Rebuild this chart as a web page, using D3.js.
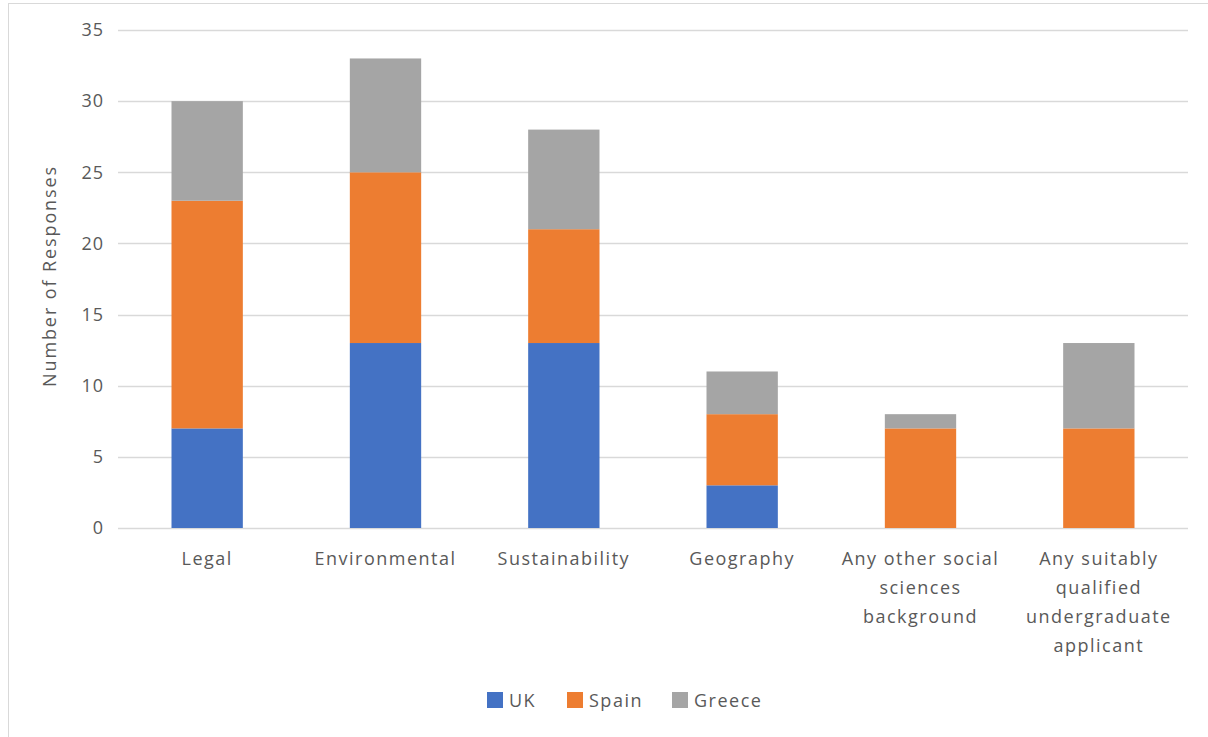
<!DOCTYPE html>
<html>
<head>
<meta charset="utf-8">
<script src="https://cdn.jsdelivr.net/npm/d3@7"></script>
<style>
  html, body { margin: 0; padding: 0; background: #fff; }
  svg { display: block; }
  text { font-family: "Open Sans", "Noto Sans", sans-serif; fill: #595959; }
</style>
</head>
<body>
<svg id="chart" width="1208" height="737"></svg>
<script>
// Responses by preferred applicant background, per country
const categories = [
  ["Legal"],
  ["Environmental"],
  ["Sustainability"],
  ["Geography"],
  ["Any other social", "sciences", "background"],
  ["Any suitably", "qualified", "undergraduate", "applicant"]
];
const seriesNames = ["UK", "Spain", "Greece"];
const ukValues     = [7, 13, 13, 3, 0, 0];
const spainValues  = [16, 12, 8, 5, 7, 7];
const greeceValues = [7, 8, 7, 3, 1, 6];
const yTicks = [0, 5, 10, 15, 20, 25, 30, 35];
const colors = ["#4472C4", "#ED7D31", "#A5A5A5"];

const rows = categories.map((c, i) => ({
  key: c.join(" "),
  lines: c,
  UK: ukValues[i],
  Spain: spainValues[i],
  Greece: greeceValues[i]
}));

const svg = d3.select("#chart");
const W = 1208, H = 737;
const plot = { left: 118, right: 1188, top: 30, bottom: 528 };

// Outer chart border
svg.append("rect")
  .attr("x", 8.5).attr("y", 3.5)
  .attr("width", W - 8).attr("height", H - 2)
  .attr("fill", "none").attr("stroke", "#D9D9D9").attr("stroke-width", 1);

const x = d3.scaleBand()
  .domain(rows.map(d => d.key))
  .range([plot.left, plot.right])
  .padding(0);

const y = d3.scaleLinear()
  .domain([0, 35])
  .range([plot.bottom, plot.top]);

// Gridlines
svg.append("g")
  .selectAll("line")
  .data(yTicks)
  .join("line")
  .attr("x1", plot.left).attr("x2", plot.right)
  .attr("y1", d => Math.round(y(d)) + 0.5).attr("y2", d => Math.round(y(d)) + 0.5)
  .attr("stroke", "#D9D9D9").attr("stroke-width", 1.5);

// Y axis labels
const yAxis = svg.append("g")
  .attr("transform", `translate(${plot.left},0)`)
  .call(d3.axisLeft(y).tickValues(yTicks).tickSize(0).tickPadding(14));
yAxis.select(".domain").remove();
yAxis.selectAll("text")
  .attr("font-size", 18)
  .attr("letter-spacing", 1)
  .attr("fill", "#595959")
  .attr("font-family", "'Open Sans', 'Noto Sans', sans-serif");

// Stacked bars
const stack = d3.stack().keys(seriesNames);
const layers = stack(rows);
const barW = x.bandwidth() * 0.4;

svg.append("g")
  .selectAll("g")
  .data(layers)
  .join("g")
  .attr("fill", (d, i) => colors[i])
  .selectAll("rect")
  .data(d => d.filter(s => s[1] - s[0] > 0))
  .join("rect")
  .attr("x", d => x(d.data.key) + (x.bandwidth() - barW) / 2)
  .attr("width", barW)
  .attr("y", d => y(d[1]))
  .attr("height", d => y(d[0]) - y(d[1]));

// Category labels
const xl = svg.append("g");
rows.forEach(r => {
  const cx = x(r.key) + x.bandwidth() / 2;
  const t = xl.append("text")
    .attr("x", cx)
    .attr("y", 565)
    .attr("text-anchor", "middle")
    .attr("font-size", 18)
    .attr("letter-spacing", 1.5);
  r.lines.forEach((ln, j) => {
    t.append("tspan")
      .attr("x", cx)
      .attr("dy", j === 0 ? 0 : 29)
      .text(ln);
  });
});

// Y axis title
svg.append("text")
  .attr("transform", `translate(56,${(plot.top + plot.bottom) / 2 - 3}) rotate(-90)`)
  .attr("text-anchor", "middle")
  .attr("font-size", 18)
  .attr("letter-spacing", 1.9)
  .text("Number of Responses");

// Legend
const legendItems = [
  { name: "UK", x: 487 },
  { name: "Spain", x: 567 },
  { name: "Greece", x: 672 }
];
const lg = svg.append("g");
legendItems.forEach(it => {
  lg.append("rect")
    .attr("x", it.x).attr("y", 692)
    .attr("width", 16).attr("height", 16)
    .attr("fill", colors[seriesNames.indexOf(it.name)]);
  lg.append("text")
    .attr("x", it.x + 22).attr("y", 707)
    .attr("font-size", 18)
    .attr("letter-spacing", 1.5)
    .text(it.name);
});
</script>
</body>
</html>
